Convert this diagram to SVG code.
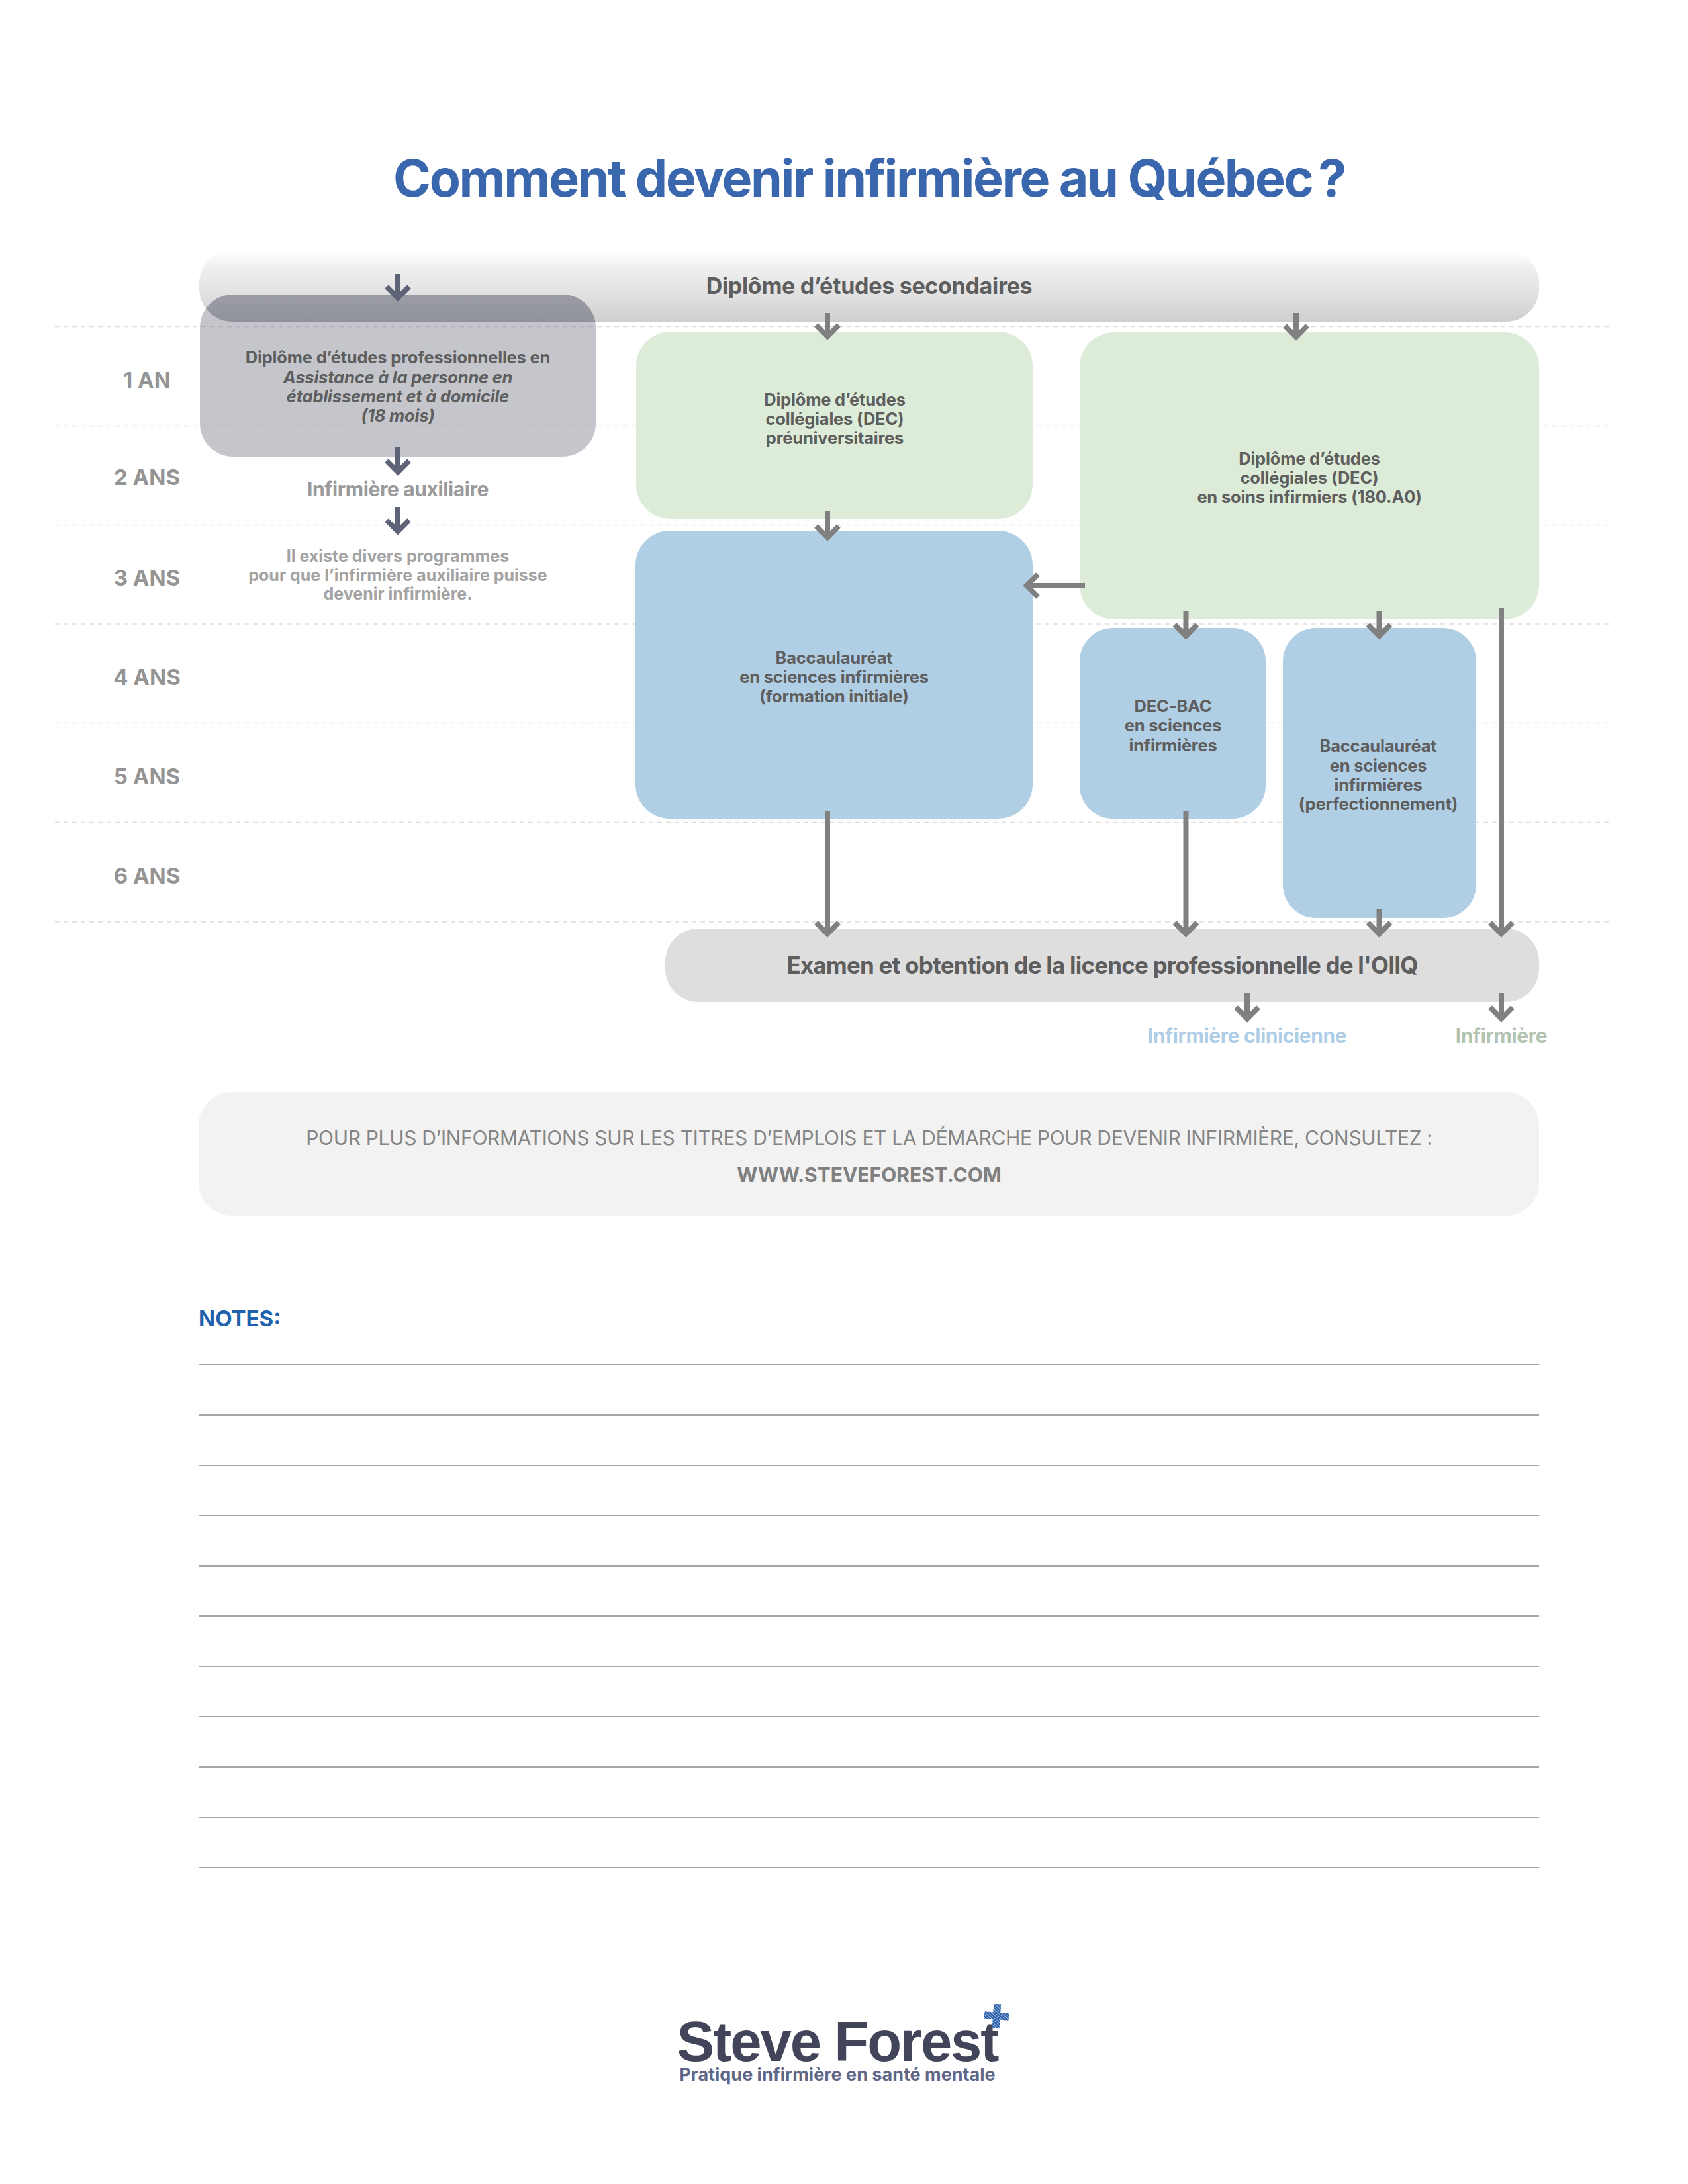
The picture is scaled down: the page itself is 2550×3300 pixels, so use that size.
<svg xmlns="http://www.w3.org/2000/svg" width="2550" height="3300" viewBox="0 0 2550 3300">
<style>
text{font-family:Inter,"Liberation Sans",sans-serif;font-weight:700;text-anchor:middle}
.b{font-size:25.5px;fill:#5e5e5e;letter-spacing:-.2px}
.y{font-size:33px;fill:#949494}
.dash{stroke:#dedede;stroke-width:1.5;stroke-dasharray:7 6;fill:none}
.note{stroke:#a6a6a6;stroke-width:2;fill:none}
.a{stroke:#808080;stroke-width:8;fill:none;marker-end:url(#ag)}
.s{stroke:#5e6377;stroke-width:8;fill:none;marker-end:url(#as)}
.g{fill:#ddecd8}.l{fill:#b1cfe4}
.lab{font-size:30px;letter-spacing:-.4px}
.sm{font-size:25px;fill:#a3a3a3}
</style>
<defs>
<linearGradient id="bar" x1="0" y1="0" x2="0" y2="1"><stop offset="0" stop-color="#ffffff"/><stop offset="0.25" stop-color="#efefef"/><stop offset="0.7" stop-color="#dfdede"/><stop offset="1" stop-color="#cfcece"/></linearGradient>
<marker id="ag" markerUnits="userSpaceOnUse" markerWidth="50" markerHeight="50" viewBox="-25 -25 50 50" refX="0" refY="0" orient="auto" overflow="visible"><path d="M-17,-17L0,0L-17,17" fill="none" stroke="#808080" stroke-width="8"/></marker>
<marker id="as" markerUnits="userSpaceOnUse" markerWidth="50" markerHeight="50" viewBox="-25 -25 50 50" refX="0" refY="0" orient="auto" overflow="visible"><path d="M-17,-17L0,0L-17,17" fill="none" stroke="#5e6377" stroke-width="8"/></marker>
<clipPath id="barclip"><rect x="301" y="378" width="2024" height="108" rx="50" ry="50"/></clipPath>
<pattern id="hatch" width="4" height="3.2" patternUnits="userSpaceOnUse" patternTransform="rotate(38)"><rect width="4" height="2.7" fill="#2f62ad"/></pattern>
</defs>
<rect width="2550" height="3300" fill="#ffffff"/>

<text id="title" x="1313" y="297" font-size="77" fill="#3a66ae" letter-spacing="-2.4">Comment devenir infirmière au Québec <tspan dx="-7">?</tspan></text>

<g id="grid">
<path class="dash" d="M83 493.500H2432M83 643.500H2432M83 793.500H2432M83 943H2432M83 1092.500H2432M83 1242.500H2432M83 1393H2432"/>
</g>
<g id="years">
<text class="y" x="222" y="586">1 AN</text>
<text class="y" x="222" y="733">2 ANS</text>
<text class="y" x="222" y="885">3 ANS</text>
<text class="y" x="222" y="1035">4 ANS</text>
<text class="y" x="222" y="1185">5 ANS</text>
<text class="y" x="222" y="1335">6 ANS</text>
</g>

<g id="n-secondaire"><rect x="301" y="378" width="2024" height="108" rx="50" ry="50" fill="url(#bar)"/>
<text x="1313" y="444" font-size="34" fill="#5e5e5e" letter-spacing="-.3">Diplôme d’études secondaires</text></g>
<g id="n-dep">
<rect x="302" y="445" width="598" height="245" rx="50" ry="50" fill="#5f6270" opacity="0.36"/>
<rect x="302" y="445" width="598" height="245" rx="50" ry="50" fill="#55586a" opacity="0.25" clip-path="url(#barclip)"/>
<text class="b" x="601" y="549">Diplôme d’études professionnelles en</text>
<text class="b" x="601" y="579" font-style="italic">Assistance à la personne en</text>
<text class="b" x="601" y="608" font-style="italic">établissement et à domicile</text>
<text class="b" x="601" y="637" font-style="italic">(18 mois)</text></g>
<g id="n-aux"><text class="lab" x="601" y="750" fill="#9a9a9a">Infirmière auxiliaire</text></g>
<g id="n-note">
<text class="sm" x="601" y="849">Il existe divers programmes</text>
<text class="sm" x="601" y="878">pour que l’infirmière auxiliaire puisse</text>
<text class="sm" x="601" y="906">devenir infirmière.</text></g>
<g id="n-dec-pre"><rect class="g" x="961" y="501" width="599" height="283" rx="52" ry="52"/>
<text class="b" x="1261" y="613">Diplôme d’études</text><text class="b" x="1261" y="642">collégiales (DEC)</text><text class="b" x="1261" y="671">préuniversitaires</text></g>
<g id="n-dec-soins"><rect class="g" x="1631" y="502" width="694" height="434" rx="52" ry="52"/>
<text class="b" x="1978" y="702">Diplôme d’études</text><text class="b" x="1978" y="731">collégiales (DEC)</text><text class="b" x="1978" y="760">en soins infirmiers (180.A0)</text></g>
<g id="n-bac-init"><rect class="l" x="960" y="802" width="600" height="435" rx="52" ry="52"/>
<text class="b" x="1260" y="1003">Baccaulauréat</text><text class="b" x="1260" y="1032">en sciences infirmières</text><text class="b" x="1260" y="1061">(formation initiale)</text></g>
<g id="n-dec-bac"><rect class="l" x="1631" y="949" width="281" height="288" rx="50" ry="50"/>
<text class="b" x="1772" y="1076">DEC-BAC</text><text class="b" x="1772" y="1105">en sciences</text><text class="b" x="1772" y="1135">infirmières</text></g>
<g id="n-bac-perf"><rect class="l" x="1938" y="949" width="292" height="438" rx="50" ry="50"/>
<text class="b" x="2082" y="1136">Baccaulauréat</text><text class="b" x="2082" y="1166">en sciences</text><text class="b" x="2082" y="1195">infirmières</text><text class="b" x="2082" y="1224">(perfectionnement)</text></g>
<g id="n-examen"><rect x="1005" y="1403" width="1320" height="111" rx="50" ry="50" fill="#dedede"/>
<text x="1665" y="1471" font-size="35" fill="#5e5e5e" letter-spacing="-.8">Examen et obtention de la licence professionnelle de l'OIIQ</text></g>
<g id="n-clin"><text class="lab" x="1884" y="1576" fill="#aecde6">Infirmière clinicienne</text></g>
<g id="n-inf"><text class="lab" x="2268" y="1576" fill="#b2c4b0">Infirmière</text></g>

<g id="connectors">
<path class="s" d="M601 414V450"/>
<path class="s" d="M601 676V713"/>
<path class="s" d="M601 766V803"/>
<path class="a" d="M1250 473V508"/>
<path class="a" d="M1958 473V509"/>
<path class="a" d="M1250 772V812"/>
<path class="a" d="M1639 885H1551"/>
<path class="a" d="M1791.500 923V961"/>
<path class="a" d="M2083.500 923V961"/>
<path class="a" d="M2268 918V1411"/>
<path class="a" d="M1250 1225V1411"/>
<path class="a" d="M1791.500 1226V1411"/>
<path class="a" d="M2083.500 1373V1411"/>
<path class="a" d="M1884 1501V1539"/>
<path class="a" d="M2268 1501V1539"/>
</g>

<g id="info"><rect x="300" y="1650" width="2025" height="187" rx="50" ry="50" fill="#f2f2f2"/>
<text x="1313" y="1730" font-size="30" fill="#858585" style="font-weight:400" letter-spacing="-.33">POUR PLUS D’INFORMATIONS SUR LES TITRES D’EMPLOIS ET LA DÉMARCHE POUR DEVENIR INFIRMIÈRE, CONSULTEZ :</text>
<text x="1313" y="1786" font-size="30" fill="#808080">WWW.STEVEFOREST.COM</text></g>

<g id="notes">
<text x="300" y="2004" font-size="33" fill="#2162ac" style="text-anchor:start">NOTES:</text>
<path class="note" d="M300 2062H2325M300 2138H2325M300 2214H2325M300 2290H2325M300 2366H2325M300 2442H2325M300 2518H2325M300 2594H2325M300 2670H2325M300 2746H2325M300 2822H2325"/>
</g>

<g id="logo">
<text x="1265" y="3114" font-size="85" fill="#424559" style="font-family:'Liberation Sans',sans-serif" letter-spacing="-2.100">Steve Forest</text>
<path transform="rotate(4 1505.500 3046)" d="M1500 3028H1511V3040.500H1524V3051.500H1511V3065H1500V3051.500H1487V3040.500H1500Z" fill="url(#hatch)"/>
<text x="1265" y="3144" font-size="27" fill="#5f6787">Pratique infirmière en santé mentale</text>
</g>
</svg>
